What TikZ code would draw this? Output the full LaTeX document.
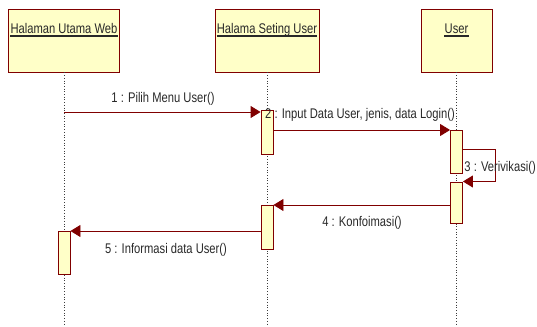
\documentclass[tikz,border=0pt]{standalone}
\usepackage{fontspec}
\setmainfont{Liberation Sans}[FakeStretch=0.8]
\usetikzlibrary{positioning,arrows.meta,calc}
\usepackage{xcolor}
\definecolor{seqBorder}{RGB}{128,0,0}
\definecolor{seqFill}{RGB}{255,255,200}
\definecolor{seqText}{RGB}{40,40,40}
\definecolor{seqLine}{RGB}{60,60,60}

\tikzset{
  headbox/.style={draw=seqBorder, fill=seqFill, line width=0.9pt, minimum height=63pt, inner sep=0pt},
  headtext/.style={anchor=base, text=seqText, font=\fontsize{14}{16}\selectfont, inner sep=0pt},
  headrule/.style={draw=seqText, line width=1.1pt},
  actbox/.style={draw=seqBorder, fill=seqFill, line width=0.9pt, minimum width=12pt, inner sep=0pt, anchor=north},
  lifeline/.style={draw=seqLine, dotted, line width=0.7pt},
  msg/.style={draw=seqBorder, line width=0.9pt, -{Triangle[length=10pt,width=12pt]}},
  msgtext/.style={text=seqText, font=\fontsize{14}{16}\selectfont, inner sep=0pt}
}

\begin{document}
\begin{tikzpicture}[x=1pt, y=-1pt]
    \useasboundingbox (0,0) rectangle (537,326);

    \node[headbox, minimum width=111pt] (web) at (64,40.5) {};
    \node[headbox, minimum width=104pt] (seting) at (267,40.5) {};
    \node[headbox, minimum width=71pt] (user) at (456.5,40.5) {};

    \node[headtext] (webname) at ([yshift=-25pt]web.north) {Halaman Utama Web};
    \node[headtext] (setingname) at ([yshift=-25pt]seting.north) {Halama Seting User};
    \node[headtext] (username) at ([yshift=-25pt]user.north) {User};
    \draw[headrule] ([yshift=-2.5pt]webname.base west) -- ([yshift=-2.5pt]webname.base east);
    \draw[headrule] ([yshift=-2.5pt]setingname.base west) -- ([yshift=-2.5pt]setingname.base east);
    \draw[headrule] ([yshift=-2.5pt]username.base west) -- ([yshift=-2.5pt]username.base east);

    \coordinate (webend) at (web.south |- 0,326);
    \coordinate (setingend) at (seting.south |- 0,326);
    \coordinate (userend) at (user.south |- 0,326);
    \draw[lifeline] (web.south) -- (webend);
    \draw[lifeline] (seting.south) -- (setingend);
    \draw[lifeline] (user.south) -- (userend);

    \node[actbox, minimum height=44pt] (setingA) at (seting.south |- 0,110) {};
    \node[actbox, minimum height=43pt] (userA) at (user.south |- 0,130) {};
    \node[actbox, minimum height=41pt] (userB) at (user.south |- 0,181.5) {};
    \node[actbox, minimum height=43.5pt] (setingB) at (seting.south |- 0,205) {};
    \node[actbox, minimum height=43pt] (webA) at (web.south |- 0,231) {};

    \draw[msg] ([yshift=-2pt]web.south |- setingA.north west) -- ([yshift=-2pt]setingA.north west);
    \draw[msg] (setingA.east |- userA.north) -- (userA.north west);
    \draw[msg] ([yshift=-19pt]userA.north east) -- ++(32,0) |- (userB.north east);
    \draw[msg] (userB.west |- setingB.north) -- (setingB.north east);
    \draw[msg] (setingB.west |- webA.north) -- (webA.north east);

    \node[msgtext] (pilih) at (163,99) {1 : Pilih Menu User()};
    \node[msgtext, anchor=west] (input) at (265,115) {2 : Input Data User, jenis, data Login()};
    \node[msgtext, anchor=east] (verif) at (536,167.5) {3 : Verivikasi()};
    \node[msgtext] (konf) at (362,223) {4 : Konfoimasi()};
    \node[msgtext] (info) at (166,250) {5 : Informasi data User()};
  \end{tikzpicture}
\end{document}
